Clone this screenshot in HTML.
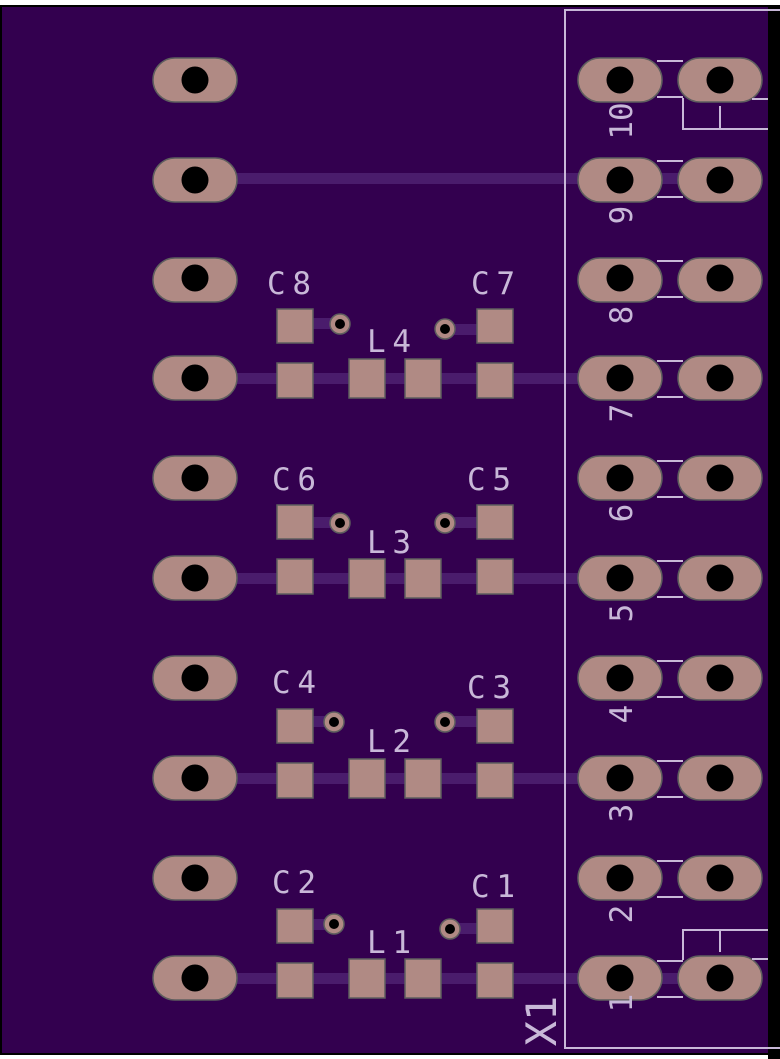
<!DOCTYPE html>
<html><head><style>html,body{margin:0;padding:0;background:#fff;width:780px;height:1059px;overflow:hidden}</style></head>
<body>
<svg width="780" height="1059" viewBox="0 0 780 1059" xmlns="http://www.w3.org/2000/svg" font-family="'DejaVu Sans Mono','Liberation Mono',monospace">
<rect x="0" y="5" width="780" height="1050" fill="#000"/>
<rect x="2" y="7" width="766" height="1046" fill="#33004f"/>
<rect x="768" y="5" width="12" height="1054" fill="#000"/>
<rect x="0" y="1055" width="768" height="4" fill="#fff"/>
<g fill="#4a1c6c">
<rect x="237" y="173" width="345" height="11"/>
<rect x="237" y="373" width="345" height="11"/>
<rect x="237" y="573" width="345" height="11"/>
<rect x="237" y="773" width="345" height="11"/>
<rect x="237" y="973" width="345" height="11"/>
<rect x="660" y="173" width="25" height="11"/><rect x="660" y="973" width="25" height="11"/>
<rect x="313" y="318" width="25" height="11"/><rect x="447" y="324" width="30" height="11"/>
<rect x="313" y="517" width="25" height="11"/><rect x="447" y="517" width="30" height="11"/>
<rect x="313" y="716" width="20" height="11"/><rect x="447" y="716" width="30" height="11"/>
<rect x="313" y="919" width="20" height="11"/><rect x="452" y="923" width="25" height="11"/>
</g>
<g fill="#b08a84" stroke="#5e5e5e" stroke-width="1.5">
<g id="pads">
<rect x="153" y="58" width="84" height="44" rx="22"/><rect x="153" y="158" width="84" height="44" rx="22"/>
<rect x="153" y="258" width="84" height="44" rx="22"/><rect x="153" y="356" width="84" height="44" rx="22"/>
<rect x="153" y="456" width="84" height="44" rx="22"/><rect x="153" y="556" width="84" height="44" rx="22"/>
<rect x="153" y="656" width="84" height="44" rx="22"/><rect x="153" y="756" width="84" height="44" rx="22"/>
<rect x="153" y="856" width="84" height="44" rx="22"/><rect x="153" y="956" width="84" height="44" rx="22"/>
</g>
<use href="#pads" x="425"/>
<use href="#pads" x="525"/>
<rect x="277" y="309" width="36" height="34"/><rect x="477" y="309" width="36" height="34"/>
<rect x="277" y="363" width="36" height="35"/><rect x="349" y="359" width="36" height="39"/><rect x="405" y="359" width="36" height="39"/><rect x="477" y="363" width="36" height="35"/>
<rect x="277" y="505" width="36" height="34"/><rect x="477" y="505" width="36" height="34"/>
<rect x="277" y="559" width="36" height="35"/><rect x="349" y="559" width="36" height="39"/><rect x="405" y="559" width="36" height="39"/><rect x="477" y="559" width="36" height="35"/>
<rect x="277" y="709" width="36" height="34"/><rect x="477" y="709" width="36" height="34"/>
<rect x="277" y="763" width="36" height="35"/><rect x="349" y="759" width="36" height="39"/><rect x="405" y="759" width="36" height="39"/><rect x="477" y="763" width="36" height="35"/>
<rect x="277" y="909" width="36" height="34"/><rect x="477" y="909" width="36" height="34"/>
<rect x="277" y="963" width="36" height="35"/><rect x="349" y="959" width="36" height="39"/><rect x="405" y="959" width="36" height="39"/><rect x="477" y="963" width="36" height="35"/>
<circle cx="340" cy="324" r="10"/><circle cx="445" cy="329" r="10"/>
<circle cx="340" cy="523" r="10"/><circle cx="445" cy="523" r="10"/>
<circle cx="334" cy="722" r="10"/><circle cx="445" cy="722" r="10"/>
<circle cx="334" cy="924" r="10"/><circle cx="450" cy="929" r="10"/>
</g>
<g fill="#000">
<circle cx="340" cy="324" r="5"/><circle cx="445" cy="329" r="5"/>
<circle cx="340" cy="523" r="5"/><circle cx="445" cy="523" r="5"/>
<circle cx="334" cy="722" r="5"/><circle cx="445" cy="722" r="5"/>
<circle cx="334" cy="924" r="5"/><circle cx="450" cy="929" r="5"/>
<g id="holes">
<circle cx="195" cy="80" r="13.5"/><circle cx="195" cy="180" r="13.5"/><circle cx="195" cy="278" r="13.5"/><circle cx="195" cy="378" r="13.5"/><circle cx="195" cy="478" r="13.5"/><circle cx="195" cy="578" r="13.5"/><circle cx="195" cy="678" r="13.5"/><circle cx="195" cy="778" r="13.5"/><circle cx="195" cy="878" r="13.5"/><circle cx="195" cy="978" r="13.5"/>
</g>
<use href="#holes" x="425"/><use href="#holes" x="525"/>
</g>
<g stroke="#c8b8d8" stroke-width="2" fill="none">
<rect x="565" y="10" width="220" height="1038"/>
<path d="M657 61H683M657 97H683M657 161H683M657 197H683M657 261H683M657 297H683M657 361H683M657 397H683M657 461H683M657 497H683M657 561H683M657 597H683M657 661H683M657 697H683M657 761H683M657 797H683M657 861H683M657 897H683M657 961H683M657 997H683"/>
<path d="M683 98V129H768M720 106V129M752 99H768"/>
<path d="M683 960V930H768M720 930V952M752 959H768"/>
</g>
<g fill="#c8b8d8" font-size="31">
<text x="267" y="294" textLength="44">C8</text><text x="471" y="294" textLength="44">C7</text><text x="367" y="352" textLength="44">L4</text>
<text x="272" y="490" textLength="44">C6</text><text x="467" y="490" textLength="44">C5</text><text x="367" y="553" textLength="44">L3</text>
<text x="272" y="693" textLength="44">C4</text><text x="467" y="698" textLength="44">C3</text><text x="367" y="752" textLength="44">L2</text>
<text x="272" y="893" textLength="44">C2</text><text x="471" y="897" textLength="44">C1</text><text x="367" y="953" textLength="44">L1</text>
<g text-anchor="middle" font-size="31">
<text transform="translate(632,121) rotate(-90)">10</text>
<text transform="translate(632,215) rotate(-90)">9</text>
<text transform="translate(632,315) rotate(-90)">8</text>
<text transform="translate(632,413) rotate(-90)">7</text>
<text transform="translate(632,513) rotate(-90)">6</text>
<text transform="translate(632,613) rotate(-90)">5</text>
<text transform="translate(632,714) rotate(-90)">4</text>
<text transform="translate(632,813) rotate(-90)">3</text>
<text transform="translate(632,914) rotate(-90)">2</text>
<text transform="translate(632,1003) rotate(-90)">1</text>
</g>
<text transform="translate(556,1021) rotate(-90)" text-anchor="middle" font-size="42">X1</text>
</g>
</svg>
</body></html>
